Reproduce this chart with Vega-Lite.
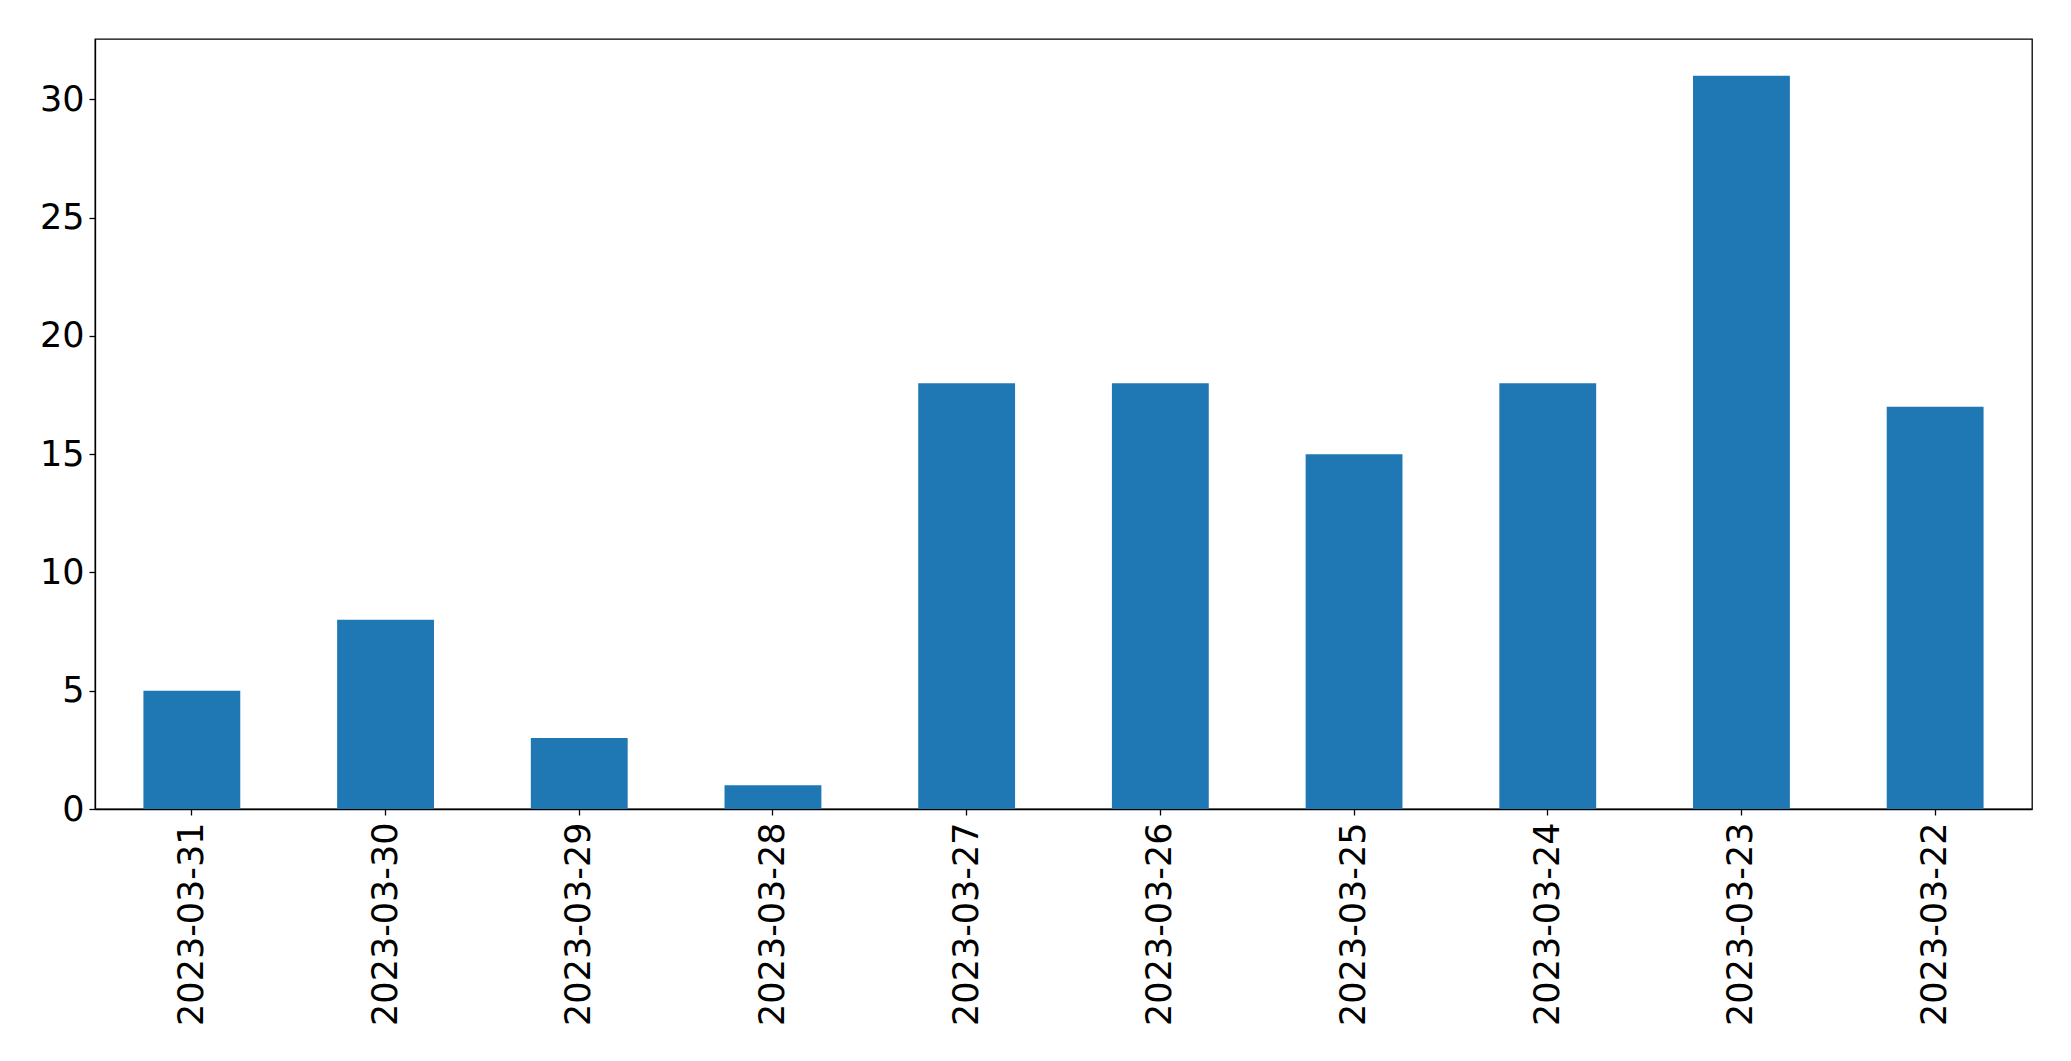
{
  "$schema": "https://vega.github.io/schema/vega-lite/v6.json",
  "width": 1937,
  "height": 770,
  "autosize": {"type": "none"},
  "padding": {"left": 95, "top": 39, "right": 39, "bottom": 252},
  "background": "white",
  "data": {
    "values": [
      {"date": "2023-03-31", "count": 5},
      {"date": "2023-03-30", "count": 8},
      {"date": "2023-03-29", "count": 3},
      {"date": "2023-03-28", "count": 1},
      {"date": "2023-03-27", "count": 18},
      {"date": "2023-03-26", "count": 18},
      {"date": "2023-03-25", "count": 15},
      {"date": "2023-03-24", "count": 18},
      {"date": "2023-03-23", "count": 31},
      {"date": "2023-03-22", "count": 17}
    ]
  },
  "mark": {"type": "bar", "color": "#1f77b4"},
  "encoding": {
    "x": {
      "field": "date",
      "type": "nominal",
      "sort": null,
      "scale": {"paddingInner": 0.5, "paddingOuter": 0.25},
      "axis": {
        "title": null,
        "labelAngle": -90,
        "labelAlign": "right",
        "labelBaseline": "middle",
        "labelFont": "DejaVu Sans",
        "labelFontSize": 35,
        "labelLimit": 0,
        "labelColor": "black",
        "labelPadding": 7,
        "tickSize": 6,
        "tickColor": "black",
        "tickWidth": 1.3,
        "domain": true,
        "domainColor": "black",
        "domainWidth": 1.3,
        "grid": false
      }
    },
    "y": {
      "field": "count",
      "type": "quantitative",
      "scale": {"domain": [0, 32.55], "nice": false},
      "axis": {
        "title": null,
        "values": [0, 5, 10, 15, 20, 25, 30],
        "labelFont": "DejaVu Sans",
        "labelFontSize": 35,
        "labelColor": "black",
        "labelPadding": 5,
        "tickSize": 6,
        "tickColor": "black",
        "tickWidth": 1.3,
        "domain": true,
        "domainColor": "black",
        "domainWidth": 1.3,
        "grid": false
      }
    }
  },
  "config": {
    "view": {"stroke": "black", "strokeWidth": 1.3}
  }
}
